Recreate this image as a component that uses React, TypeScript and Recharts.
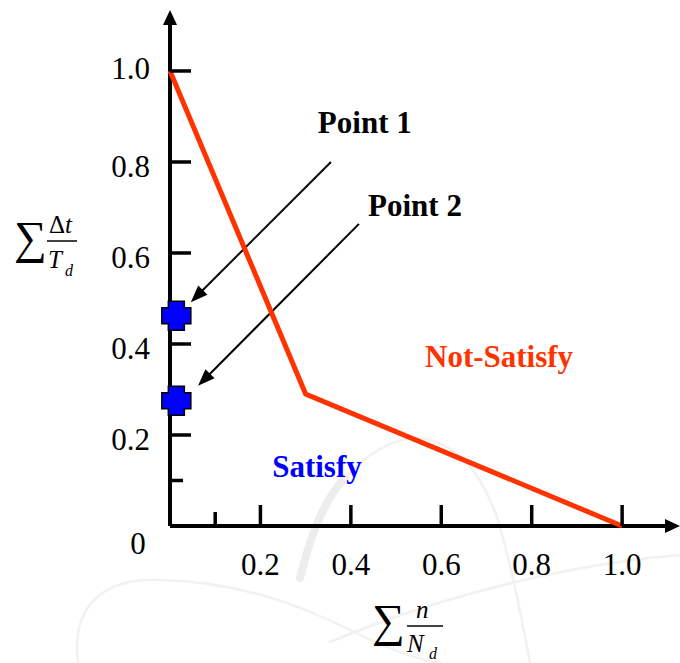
import React from "react";
import {
  ScatterChart,
  Scatter,
  XAxis,
  YAxis,
  ReferenceLine,
  ReferenceDot,
} from "recharts";

// Boundary between the "Satisfy" and "Not-Satisfy" regions
const boundary = [
  { x: 0, y: 1.0 },
  { x: 0.3, y: 0.29 },
  { x: 1.0, y: 0 },
];

// Measured operating points (on the vertical axis)
const points = [
  { x: 0.014, y: 0.462 },
  { x: 0.014, y: 0.275 },
];

const xTicks = [0.1, 0.2, 0.4, 0.6, 0.8, 1.0];
const yTicks = [0, 0.1, 0.2, 0.4, 0.6, 0.8, 1.0];

// Pointer arrows from the "Point n" captions to the markers
const pointerArrows = [
  { x1: 0.356, y1: 0.8, x2: 0.046, y2: 0.492 },
  { x1: 0.418, y1: 0.664, x2: 0.062, y2: 0.308 },
];

const captions = [
  { text: "Point 1", x: 0.327, y: 0.864, color: "#000000" },
  { text: "Point 2", x: 0.438, y: 0.681, color: "#000000" },
  { text: "Not-Satisfy", x: 0.564, y: 0.349, color: "#FF3300" },
  { text: "Satisfy", x: 0.226, y: 0.108, color: "#0000FF" },
];

const X_MAX = 1.128;
const Y_MAX = 1.134;

const SERIF = "'Liberation Serif', 'Times New Roman', serif";
const RED = "#FF3300";

/** Line with a filled triangular head at (x2, y2). */
function makeArrow(width: number, headLen: number, headHalf: number) {
  return (props: any) => {
    const { x1, y1, x2, y2 } = props;
    const ang = Math.atan2(y2 - y1, x2 - x1);
    const c = Math.cos(ang);
    const s = Math.sin(ang);
    const bx = x2 - headLen * c;
    const by = y2 - headLen * s;
    const pts = `${x2},${y2} ${bx - headHalf * s},${by + headHalf * c} ${bx + headHalf * s},${by - headHalf * c}`;
    return (
      <g>
        <line x1={x1} y1={y1} x2={bx + c} y2={by + s} stroke="#000" strokeWidth={width} />
        <polygon points={pts} fill="#000" />
      </g>
    );
  };
}

const AxisArrow = makeArrow(4, 15, 7);
const PointerArrow = makeArrow(2, 17, 6.5);

const XTick = (props: any) => {
  const { x, y, payload } = props;
  const v = payload.value as number;
  const minor = v < 0.15;
  return (
    <g>
      <line x1={x} x2={x} y1={y} y2={y - (minor ? 14 : 21)} stroke="#000" strokeWidth={3.5} />
      {!minor && (
        <text x={x} y={y + 49} textAnchor="middle" fontFamily={SERIF} fontSize={31} fill="#000">
          {v.toFixed(1)}
        </text>
      )}
    </g>
  );
};

const YTick = (props: any) => {
  const { x, y, payload } = props;
  const v = payload.value as number;
  if (v === 0) {
    return (
      <text x={x - 32} y={y + 28} textAnchor="middle" fontFamily={SERIF} fontSize={31} fill="#000">
        0
      </text>
    );
  }
  const minor = v < 0.15;
  return (
    <g>
      <line x1={x} x2={x + (minor ? 13 : 21)} y1={y} y2={y} stroke="#000" strokeWidth={3.5} />
      {!minor && (
        <text x={x - 20} y={y + (v === 1 ? 8 : 15)} textAnchor="end" fontFamily={SERIF} fontSize={31} fill="#000">
          {v.toFixed(1)}
        </text>
      )}
    </g>
  );
};

// ∑ Δt / T_d
const YTitle = () => (
  <g fontFamily={SERIF} fill="#000">
    <text x={14} y={253} fontSize={46}>∑</text>
    <text x={49} y={233} fontSize={25}>
      Δ<tspan fontStyle="italic">t</tspan>
    </text>
    <line x1={47} x2={77} y1={241} y2={241} stroke="#000" strokeWidth={1.5} />
    <text x={48} y={268} fontSize={25} fontStyle="italic">T</text>
    <text x={65} y={276} fontSize={16} fontStyle="italic">d</text>
  </g>
);

// ∑ n / N_d
const XTitle = () => (
  <g fontFamily={SERIF} fill="#000">
    <text x={372} y={636} fontSize={46}>∑</text>
    <text x={416} y={618} fontSize={25} fontStyle="italic">n</text>
    <line x1={407} x2={443} y1={626} y2={626} stroke="#000" strokeWidth={1.5} />
    <text x={407} y={652} fontSize={25} fontStyle="italic">N</text>
    <text x={429} y={659} fontSize={16} fontStyle="italic">d</text>
  </g>
);

const PlusMarker = (props: any) => {
  const { cx, cy } = props;
  const a = 14.5;
  const b = 8;
  const d = `M${cx - b},${cy - a} H${cx + b} V${cy - b} H${cx + a} V${cy + b} H${cx + b} V${cy + a} H${cx - b} V${cy + b} H${cx - a} V${cy - b} H${cx - b} Z`;
  return <path d={d} fill="#0000FF" stroke="#000" strokeWidth={1.5} />;
};

// faint logo in the background
const Watermark = () => (
  <svg width={680} height={663} style={{ position: "absolute", left: 0, top: 0 }}>
    <g fill="none" stroke="#f1f1f1" strokeLinecap="round">
      <path d="M300,578 Q318,505 345,478" strokeWidth={8} stroke="#ededed" />
      <path d="M345,478 Q380,440 415,438 Q470,440 498,520 Q515,580 530,663" strokeWidth={2.5} />
      <path d="M78,663 C70,600 110,578 160,580 C240,582 300,605 350,630 C390,650 420,660 440,663" strokeWidth={2.5} />
      <path d="M330,642 C430,600 560,565 680,555" strokeWidth={2.5} />
    </g>
  </svg>
);

export default function App() {
  return (
    <div style={{ position: "absolute", left: 0, top: 0, width: 680, height: 663, background: "#fff" }}>
      <Watermark />
      <div style={{ position: "absolute", left: 0, top: 0 }}>
        <ScatterChart width={680} height={663} margin={{ top: 10, right: 0, bottom: 77, left: 90 }}>
          <XAxis
            dataKey="x"
            type="number"
            domain={[0, X_MAX]}
            ticks={xTicks}
            interval={0}
            height={60}
            axisLine={false}
            tickLine={false}
            tickSize={0}
            tickMargin={0}
            tick={<XTick />}
            label={XTitle}
          />
          <YAxis
            dataKey="y"
            type="number"
            domain={[0, Y_MAX]}
            ticks={yTicks}
            interval={0}
            width={80}
            axisLine={false}
            tickLine={false}
            tickSize={0}
            tickMargin={0}
            tick={<YTick />}
            label={YTitle}
          />
          <ReferenceLine
            segment={[{ x: 0, y: 0 }, { x: X_MAX, y: 0 }]}
            ifOverflow="visible"
            shape={AxisArrow}
          />
          <ReferenceLine
            segment={[{ x: 0, y: 0 }, { x: 0, y: Y_MAX }]}
            ifOverflow="visible"
            shape={AxisArrow}
          />
          <Scatter
            data={boundary}
            line={{ stroke: RED, strokeWidth: 5 }}
            shape={() => <g />}
            isAnimationActive={false}
          />
          {pointerArrows.map((a, i) => (
            <ReferenceLine
              key={`arrow-${i}`}
              segment={[{ x: a.x1, y: a.y1 }, { x: a.x2, y: a.y2 }]}
              ifOverflow="visible"
              shape={PointerArrow}
            />
          ))}
          <Scatter data={points} shape={<PlusMarker />} isAnimationActive={false} />
          {captions.map((c) => (
            <ReferenceDot
              key={c.text}
              x={c.x}
              y={c.y}
              r={1}
              ifOverflow="visible"
              shape={(p: any) => (
                <text x={p.cx} y={p.cy} fontFamily={SERIF} fontWeight="bold" fontSize={31} fill={c.color}>
                  {c.text}
                </text>
              )}
            />
          ))}
        </ScatterChart>
      </div>
    </div>
  );
}
